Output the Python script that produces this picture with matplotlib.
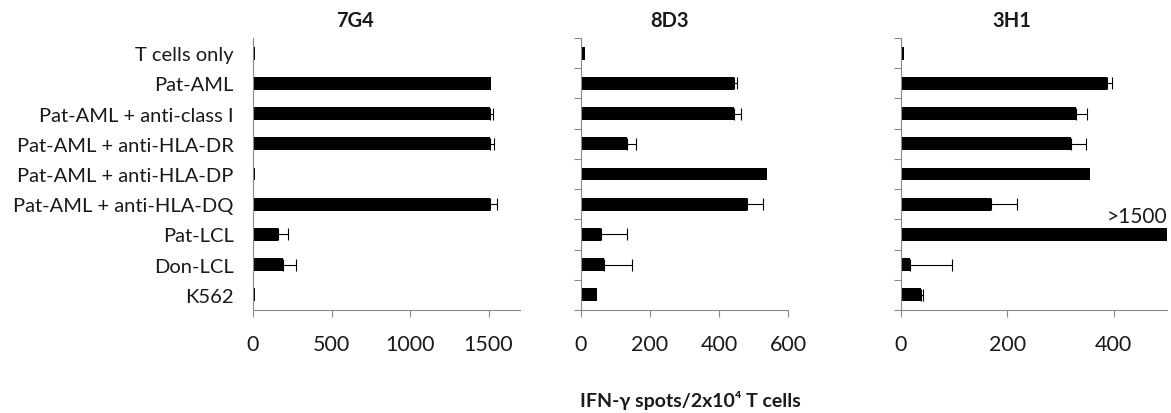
import numpy as np
import matplotlib
matplotlib.use("Agg")
import matplotlib.pyplot as plt
from matplotlib.ticker import FixedLocator

plt.rcParams['font.family'] = ['Lato', 'DejaVu Sans']

categories = ["T cells only", "Pat-AML", "Pat-AML + anti-class I", "Pat-AML + anti-HLA-DR",
              "Pat-AML + anti-HLA-DP", "Pat-AML + anti-HLA-DQ", "Pat-LCL", "Don-LCL", "K562"]

clones = ["7G4", "8D3", "3H1"]
g7_vals = [12, 1515, 1507, 1507, 14, 1507, 156, 189, 10]
g7_err = [0, 0, 19, 28, 0, 48, 69, 82, 0]
d8_vals = [12, 444, 444, 132, 539, 482, 59, 67, 45]
d8_err = [0, 8, 21, 28, 0, 46, 74, 80, 0]
h3_vals = [6, 388, 330, 319, 356, 169, 1500, 17, 39]
h3_err = [0, 8, 20, 29, 0, 50, 0, 80, 3]

x_limits = [1700, 600, 500]
x_ticks = [[0, 500, 1000, 1500], [0, 200, 400, 600], [0, 200, 400]]

W, H = 1171, 414
# axes boxes in pixels: left, right, top, bottom
boxes = [(253, 520, 39, 311), (581, 788, 39, 311), (900.5, 1167, 39, 311)]
title_x = [355, 670, 1012]

AXCOL = '#898989'
TXT = '#1a1a1a'

fig = plt.figure(figsize=(W / 100, H / 100), dpi=100)

series = [(g7_vals, g7_err), (d8_vals, d8_err), (h3_vals, h3_err)]
y = np.arange(len(categories))

for i, (vals, err) in enumerate(series):
    l, r, t, b = boxes[i]
    ax = fig.add_axes([l / W, (H - b) / H, (r - l) / W, (b - t) / H])
    vals = np.array(vals)
    err = np.array(err)
    ax.barh(y, vals, height=0.43, color='black', zorder=2)
    mask = err > 0
    ax.errorbar(vals[mask], y[mask], xerr=[np.zeros(mask.sum()), err[mask]], fmt='none',
                ecolor='black', elinewidth=0.8, capsize=4.5, capthick=0.8, zorder=3)
    ax.set_xlim(0, x_limits[i])
    ax.set_ylim(len(categories) - 0.5, -0.5)
    ax.set_xticks(x_ticks[i])
    ax.tick_params(axis='x', direction='out', length=5, width=0.8, color=AXCOL,
                   labelsize=15.5, pad=12, labelcolor=TXT)
    for s in ['top', 'right']:
        ax.spines[s].set_visible(False)
    for s in ['left', 'bottom']:
        ax.spines[s].set_color(AXCOL)
        ax.spines[s].set_linewidth(0.8)
    if i == 0:
        ax.set_yticks(y)
        ax.set_yticklabels(categories)
        ax.tick_params(axis='y', length=0, labelsize=14.5, pad=14, labelcolor=TXT)
    else:
        ax.set_yticks([])
        ax.yaxis.set_minor_locator(FixedLocator(np.arange(-0.5, len(categories), 1.0)))
        ax.tick_params(axis='y', which='minor', direction='out', length=5, width=0.8, color=AXCOL)
    fig.text(title_x[i] / W, 1 - 21 / H, clones[i], ha='center', va='center',
             fontsize=14.5, fontweight='bold', color=TXT)

# label for the clipped bar in the last panel
ax.annotate(">1500", xy=(x_limits[2], 6), xytext=(0, 6), textcoords='offset points',
            ha='right', va='bottom', fontsize=15, color=TXT)

fig.text(690 / W, 1 - 401 / H, "IFN-γ spots/2x10⁴ T cells", ha='center', va='center',
         fontsize=14, fontweight='bold', color=TXT)

fig.savefig("out.png", dpi=100)
